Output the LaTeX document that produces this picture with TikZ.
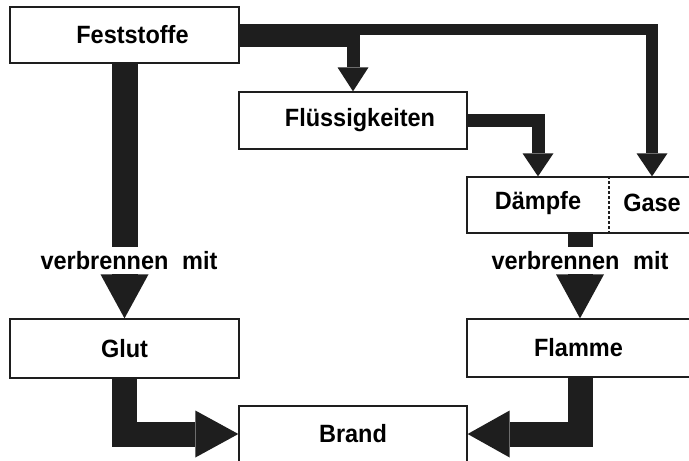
\documentclass[tikz,border=0pt]{standalone}
\usepackage{fontspec}
\setmainfont{Liberation Sans}[FakeStretch=0.94]
\usepackage{tikz}
\usetikzlibrary{arrows.meta}
\definecolor{inkblack}{RGB}{30, 30, 30}
\tikzset{
  box/.style={draw=inkblack, line width=1.3pt, fill=white, inner sep=0pt, font=\fontsize{25pt}{30pt}\selectfont\bfseries},
  txt/.style={inner sep=0pt, font=\fontsize{25pt}{30pt}\selectfont\bfseries},
  verb/.style={inner sep=0pt, minimum height=28pt, font=\fontsize{25pt}{30pt}\selectfont\bfseries},
  fat/.style={draw=inkblack, line width=#1},
  divider/.style={draw=inkblack, line width=2pt, dash pattern=on 3pt off 2pt}
}

\begin{document}
\begin{tikzpicture}[x=1pt, y=-1pt]
  \useasboundingbox (0,0) rectangle (689,461);

  % Stoffe
  \node[box, minimum width=229pt, minimum height=56pt] (fest) at (124.5, 35) {\hspace{16pt}Feststoffe};
  \node[box, minimum width=228pt, minimum height=57pt] (fluess) at (353, 120.5) {\hspace{14pt}Flüssigkeiten};
  \node[box, minimum width=223pt, minimum height=56pt] (dg) at (578.5, 205) {};
  \node[txt] (daempfe) at (538, 203) {Dämpfe};
  \node[txt] (gase) at (652, 203) {Gase};
  \draw[divider] (dg.north -| 609,0) -- (dg.south -| 609,0);

  % Ergebnis
  \node[box, minimum width=229pt, minimum height=59pt] (glut) at (124.5, 348.5) {Glut\hspace{9pt}};
  \node[box, minimum width=223pt, minimum height=58pt] (flamme) at (578.5, 348) {Flamme};
  \node[box, minimum width=228pt, minimum height=56pt] (brand) at (353, 434) {Brand\hspace{18pt}};

  % Feststoffe -> Fluessigkeiten, Gase
  \draw[fat=23pt] (fest.east) -- ([xshift=6.5pt]fest.east -| fluess.north);
  \draw[fat=13pt, -{Triangle[width=31pt, length=24pt, line width=0pt]}] (fest.east -| fluess.north) -- (fluess.north);
  \draw[fat=11.5pt, -{Triangle[width=31pt, length=23pt, line width=0pt]}] ([yshift=5.5pt]fest.east -| fluess.north) -| (gase |- dg.north);

  % Fluessigkeiten -> Daempfe
  \draw[fat=13pt, -{Triangle[width=31pt, length=23pt, line width=0pt]}] (fluess.east) -| (daempfe |- dg.north);

  % verbrennen mit
  \node[verb] (verbL) at (129, 261) {verbrennen\hspace{0.55em}mit};
  \node[verb] (verbR) at (580, 261) {verbrennen\hspace{0.55em}mit};
  \draw[fat=26pt] (fest.south) -- (fest.south |- verbL.north);
  \draw[fat=26pt, -{Triangle[width=48pt, length=44pt, line width=0pt]}] (fest.south |- verbL.south) -- (glut.north);
  \draw[fat=25pt] (dg.south -| verbR) -- (verbR.north);
  \draw[fat=25pt, -{Triangle[width=48pt, length=44pt, line width=0pt]}] (verbR.south) -- (verbR.south |- flamme.north);

  % Brand
  \draw[fat=25pt, -{Triangle[width=47pt, length=43pt, line width=0pt]}] (glut.south) |- (brand.west);
  \draw[fat=25pt, -{Triangle[width=47pt, length=42pt, line width=0pt]}] (flamme.south -| verbR) |- (brand.east);
\end{tikzpicture}
\end{document}
